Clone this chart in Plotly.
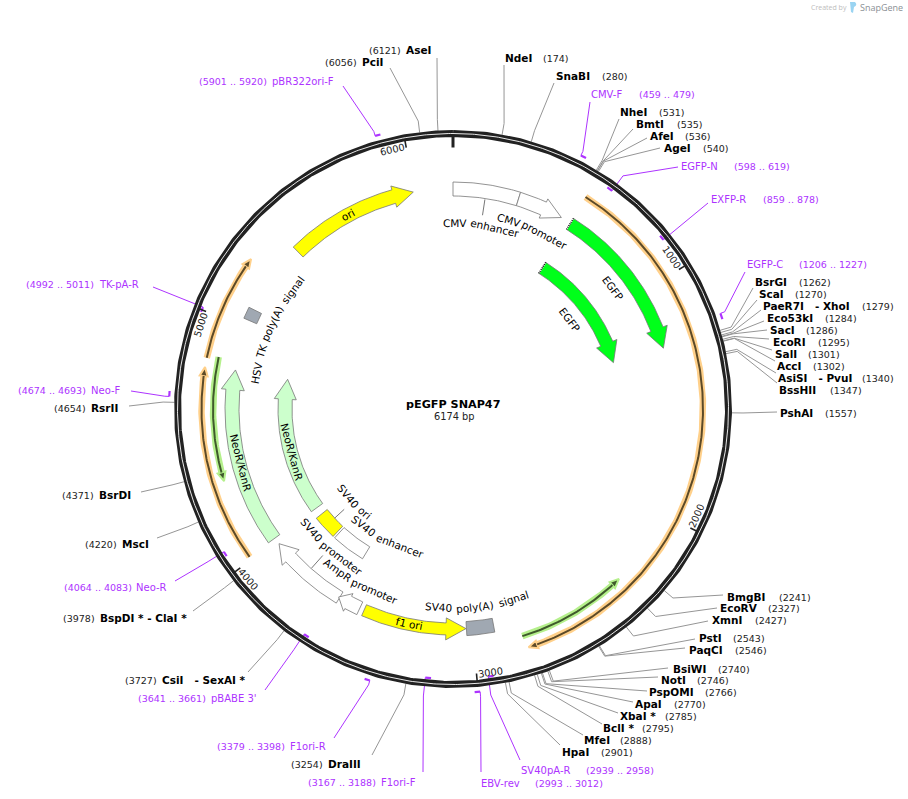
import numpy as np
import plotly.graph_objects as go

# plasmid
plasmid_name = "pEGFP SNAP47"
plasmid_len = 6174
tick_bps = [1000, 2000, 3000, 4000, 5000, 6000]

# restriction sites
site_names = ["AseI", "PciI", "NdeI", "SnaBI", "NheI", "BmtI", "AfeI", "AgeI",
              "BsrGI", "ScaI", "PaeR7I\u00a0\u00a0 - XhoI", "Eco53kI", "SacI", "EcoRI", "SalI", "AccI",
              "AsiSI\u00a0\u00a0 - PvuI", "BssHII", "PshAI", "BmgBI", "EcoRV", "XmnI", "PstI", "PaqCI",
              "BsiWI", "NotI", "PspOMI", "ApaI", "XbaI *", "BclI *", "MfeI", "HpaI",
              "DraIII", "CsiI\u00a0\u00a0 - SexAI *", "BspDI * - ClaI *", "MscI", "BsrDI", "RsrII"]
site_bps = [6121, 6056, 174, 280, 531, 535, 536, 540,
            1262, 1270, 1279, 1284, 1286, 1295, 1301, 1302,
            1340, 1347, 1557, 2241, 2327, 2427, 2543, 2546,
            2740, 2746, 2766, 2770, 2785, 2795, 2888, 2901,
            3254, 3727, 3978, 4220, 4371, 4654]

# primers
primer_names = ["pBR322ori-F", "CMV-F", "EGFP-N", "EXFP-R", "EGFP-C", "SV40pA-R", "EBV-rev",
                "F1ori-F", "F1ori-R", "pBABE 3'", "Neo-R", "Neo-F", "TK-pA-R"]
primer_starts = [5901, 459, 598, 859, 1206, 2939, 2993, 3167, 3379, 3641, 4064, 4674, 4992]
primer_ends = [5920, 479, 619, 878, 1227, 2958, 3012, 3188, 3398, 3661, 4083, 4693, 5011]
primer_strands = [1, 1, -1, -1, 1, -1, 1, -1, 1, -1, -1, 1, -1]

# block features, from tail to tip
feature_names = ["CMV enhancer", "CMV promoter", "EGFP", "EGFP", "ori", "HSV TK poly(A) signal",
                 "NeoR/KanR", "NeoR/KanR", "SV40 ori", "SV40 enhancer", "SV40 promoter",
                 "AmpR promoter", "f1 ori", "SV40 poly(A) signal"]
feature_starts = [0, 297, 554, 554, 5409, 5033, 4014, 4014, 3829, 3621, 3619, 3517, 3496, 2905]
feature_ends = [297, 506, 1267, 1267, 5996, 5085, 4805, 4805, 3968, 3817, 3983, 3624, 3029, 3027]

# thin annotated arcs, from tail to tip
thin_starts = [549, 2796, 4832, 4013, 4845]
thin_ends = [2785, 2327, 5258, 4795, 4331]
thin_kinds = ["orange", "green", "orange", "orange", "green"]

# ---- layout -----
W, H = 908, 799
CX, CY, R = 453, 409, 275.5
FONT = "DejaVu Sans"
PURPLE = "#AD33FF"
GRAY = "#969696"
OUTLINE = "#777777"

# x of name, x of number, y of row, end of leader
site_name_x = [406, 362, 504.5, 556, 620, 636, 650, 664,
               755, 759, 763, 767, 770, 773, 775, 777,
               778, 779, 780, 727, 720, 712, 699, 689,
               673, 661, 649, 635, 620, 603, 584, 562,
               328, 162, 100, 122, 99, 91]
site_num_x = [369, 325, 543, 602, 659, 677, 685, 703,
              799, 795, 862, 825, 806, 818, 808, 813,
              862, 830, 825, 779, 768, 755, 733, 735,
              718, 697, 705, 674, 665, 642, 620, 601,
              291, 125, 63, 85, 62, 54]
site_y = [50, 62, 58, 76, 112, 124, 136, 148,
          282, 294, 306, 318, 330, 342, 354, 366,
          378, 390, 413, 597, 608, 620, 638, 650,
          669, 680, 692, 704, 716, 728, 740, 752,
          764, 680, 618, 544, 495, 408]
site_end_x = [437, 390, 504, 554, 619, 633, 647, 660,
              753, 757, 761, 764, 767, 769, 772, 775,
              776, 777, 777, 723, 717, 708, 695, 685,
              668, 658, 647, 633, 618, 602, 583, 560,
              372, 248, 193, 157, 141, 129]
site_end_y = [58, 68, 65, 83, 119, 129, 138, 148,
              288, 300, 310, 321, 330, 339, 350, 361,
              373, 383, 412, 595, 608, 621, 639, 648,
              668, 677, 691, 702, 713, 724, 735, 745,
              755, 672, 611, 538, 492, 406]

primer_name_x = [272, 591, 681, 711, 747, 521, 481, 381, 290, 211, 136, 91, 99]
primer_num_x = [199, 639, 734, 763, 799, 586, 535, 308, 217, 138, 64, 18, 26]
primer_y = [81, 94, 166, 199, 264, 770, 783, 782, 746, 698, 587, 390, 284]
primer_end_x = [343, 590, 678, 708, 745, 520, 481, 423, 334, 265, 175, 131, 153]
primer_end_y = [86, 102, 167, 203, 272, 760, 772, 772, 738, 690, 581, 391, 287]

# radius, thickness, head width and length of the blocks
feature_r = [220, 220, 219, 167, 220.5, 221, 221, 168, 168, 168, 220, 220, 220, 220]
feature_w = [14, 14, 13, 13, 14, 14, 14, 14, 14, 14, 13, 14, 12, 14]
feature_head_w = [21, 21, 22, 22, 22, 0, 23, 22, 0, 0, 23, 20, 22, 0]
feature_head_len = [0, 20, 20, 20, 20, 0, 20, 20, 0, 0, 18, 11, 20, 0]
feature_fill = ["white", "white", "#00FF1A", "#00FF1A", "#FFFF00", "#A0A8B2",
                "#CCFFCC", "#CCFFCC", "#FFFF00", "white", "white", "white", "#FFFF00", "#A0A8B2"]

# label on arc: radius, centre angle
label_r = [186, 197, 200, 147, 221, 200, 219, 167, 136, 147, 186, 198, 219, 199]
label_deg = [8.7, 23.7, 52.9, 52.7, 331.5, 294.2, 255.7, 255, 226.8, 207, 221.7, 208.4, 191.6, 173]

thin_r = [250, 237.5, 251.5, 251.5, 240]
thin_halo = {"orange": "#FFD08A", "green": "#B5F08C"}
thin_line = {"orange": "#5C4A28", "green": "#3F5A2C"}

# rough DejaVu Sans advance widths, in em
NARROW = "iljI.,:;'"
SLIM = "frt()/-"
WIDE = "mMwWCGNOQVAHDKRU"


def word_width(word, size):
    w = 0
    for c in word:
        if c in NARROW:
            w += 0.29
        elif c in SLIM:
            w += 0.39
        elif c in WIDE:
            w += 0.78
        else:
            w += 0.62
    return w * size


def xy(bp, r):
    a = np.asarray(bp, dtype=float) / plasmid_len * 2 * np.pi
    return CX + r * np.sin(a), CY - r * np.cos(a)


def bp_range(a, b):
    n = max(int(abs(b - a) / 8), 2)
    return np.linspace(a, b, n)


def arrow_shape(a, b, r, w, head_w, head_len):
    # closed outline of a block, with a head if head_len is set
    sign = 1 if b > a else -1
    head_bp = head_len / (r * 2 * np.pi) * plasmid_len
    base = b - sign * head_bp
    x1, y1 = xy(bp_range(a, base), r + w / 2)
    x2, y2 = xy(bp_range(base, a), r - w / 2)
    if head_len > 0:
        hx = [float(xy(base, r + head_w / 2)[0]), float(xy(b, r)[0]), float(xy(base, r - head_w / 2)[0])]
        hy = [float(xy(base, r + head_w / 2)[1]), float(xy(b, r)[1]), float(xy(base, r - head_w / 2)[1])]
    else:
        hx, hy = [], []
    return (list(x1) + hx + list(x2) + [x1[0]], list(y1) + hy + list(y2) + [y1[0]])


def rotation(deg):
    deg = deg % 360
    if deg <= 90:
        return deg
    if deg < 270:
        return deg - 180
    return deg - 360


def text(x, y, s, size=10.5, color="black", bold=False, anchor="left", angle=0, family=FONT):
    if bold:
        s = "<b>" + s + "</b>"
    fig.add_annotation(x=x, y=y, xref="x", yref="y", text=s, showarrow=False, xanchor=anchor,
                       yanchor="middle", textangle=angle, borderpad=0, borderwidth=0,
                       font=dict(family=family, size=size, color=color))


def curved_text(s, r, deg, size=10.5):
    # one rotated piece per word so that the label follows the arc
    words = s.split(" ")
    widths = [word_width(w, size) for w in words]
    gap = size * 0.32
    total = sum(widths) + gap * (len(words) - 1)
    sign = 1 if (deg % 360 <= 90 or deg % 360 >= 270) else -1
    pos = -total / 2
    for w, width in zip(words, widths):
        d = deg + sign * np.degrees((pos + width / 2) / r)
        x, y = xy(d / 360 * plasmid_len, r)
        text(float(x), float(y), w, size=size, anchor="center", angle=rotation(d))
        pos += width + gap


fig = go.Figure()

# leaders of the sites
lx, ly = [], []
for bp, ex, ey in zip(site_bps, site_end_x, site_end_y):
    x0, y0 = xy(bp, R + 3)
    x1, y1 = xy(bp, R + 14.5)
    lx += [float(x0), float(x1), ex, None]
    ly += [float(y0), float(y1), ey, None]
fig.add_trace(go.Scatter(x=lx, y=ly, mode="lines", line=dict(color=GRAY, width=1), hoverinfo="skip"))

# leaders and marks of the primers
lx, ly = [], []
mx, my = [], []
for s, e, strand, ex, ey in zip(primer_starts, primer_ends, primer_strands, primer_end_x, primer_end_y):
    r = R + 8.5 if strand > 0 else R - 5.5
    anchor_bp = s if strand > 0 else e
    x0, y0 = xy(anchor_bp, r)
    x1, y1 = xy(anchor_bp, R + 13)
    lx += [float(x0), float(x1), ex, None]
    ly += [float(y0), float(y1), ey, None]
    ax, ay = xy(bp_range(s, e), r)
    mx += list(ax) + [None]
    my += list(ay) + [None]
fig.add_trace(go.Scatter(x=lx, y=ly, mode="lines", line=dict(color=PURPLE, width=1), hoverinfo="skip"))
fig.add_trace(go.Scatter(x=mx, y=my, mode="lines", line=dict(color=PURPLE, width=2.2), hoverinfo="skip"))

# backbone
ring_x, ring_y = xy(np.linspace(0, plasmid_len, 721), R)
fig.add_trace(go.Scatter(x=ring_x, y=ring_y, mode="lines", line=dict(color="#222222", width=7), hoverinfo="skip"))
fig.add_trace(go.Scatter(x=ring_x, y=ring_y, mode="lines", line=dict(color="white", width=0.9), hoverinfo="skip"))

# ticks
for bp in tick_bps:
    x, y = xy([bp, bp], [R - 2, R - 10])
    fig.add_trace(go.Scatter(x=x, y=y, mode="lines", line=dict(color="#222222", width=1.6), hoverinfo="skip"))
    d = bp / plasmid_len * 360 - 3
    tx, ty = xy(d / 360 * plasmid_len, R - 9.5)
    text(float(tx), float(ty), str(bp), size=9.8, color="#222222", anchor="center", angle=rotation(d))
x, y = xy([0, 0], [R - 2, R - 14])
fig.add_trace(go.Scatter(x=x, y=y, mode="lines", line=dict(color="#222222", width=3), hoverinfo="skip"))

# thin arcs
for a, b, kind, r in zip(thin_starts, thin_ends, thin_kinds, thin_r):
    sign = 1 if b > a else -1
    base = b - sign * 9 / (r * 2 * np.pi) * plasmid_len
    x, y = xy(bp_range(a, base), r)
    fig.add_trace(go.Scatter(x=x, y=y, mode="lines", line=dict(color=thin_halo[kind], width=6.5), hoverinfo="skip"))
    hx, hy = arrow_shape(base - sign, b, r, 0, 8, 9)
    fig.add_trace(go.Scatter(x=hx, y=hy, mode="lines", fill="toself", fillcolor=thin_line[kind],
                             line=dict(color=thin_halo[kind], width=2), hoverinfo="skip"))
    fig.add_trace(go.Scatter(x=x, y=y, mode="lines", line=dict(color=thin_line[kind], width=2), hoverinfo="skip"))

# blocks
for i in range(len(feature_names)):
    px, py = arrow_shape(feature_starts[i], feature_ends[i], feature_r[i], feature_w[i],
                         feature_head_w[i], feature_head_len[i])
    fig.add_trace(go.Scatter(x=px, y=py, mode="lines", fill="toself", fillcolor=feature_fill[i],
                             line=dict(color=OUTLINE, width=0.8), hoverinfo="skip"))

# dotted tail on the EGFP blocks
for i in [2, 3]:
    x, y = xy([feature_starts[i], feature_starts[i]],
              [feature_r[i] - feature_w[i] / 2, feature_r[i] + feature_w[i] / 2])
    fig.add_trace(go.Scatter(x=x, y=y, mode="lines", line=dict(color="white", width=1.4), hoverinfo="skip"))
    fig.add_trace(go.Scatter(x=x, y=y, mode="lines", line=dict(color="black", width=1.4, dash="1px,1px"),
                             hoverinfo="skip"))

# small leaders from block to its label
lx, ly = [], []
for i, (r0, r1) in {0: (196, 212), 8: (148, 161), 10: (196, 213)}.items():
    mid = (feature_starts[i] + feature_ends[i]) / 2
    x, y = xy([mid, mid], [r0, r1])
    lx += list(x) + [None]
    ly += list(y) + [None]
fig.add_trace(go.Scatter(x=lx, y=ly, mode="lines", line=dict(color=OUTLINE, width=1), hoverinfo="skip"))

# labels
for name, bp, nx, px, y in zip(site_names, site_bps, site_name_x, site_num_x, site_y):
    text(nx, y, name, size=10.5, bold=True)
    text(px, y + 0.5, "(%d)" % bp, size=9.5, color="#222222")
for name, s, e, nx, px, y in zip(primer_names, primer_starts, primer_ends, primer_name_x, primer_num_x, primer_y):
    text(nx, y, name, size=10, color=PURPLE)
    text(px, y + 0.5, "(%d .. %d)" % (s, e), size=9.5, color=PURPLE)
for name, r, d in zip(feature_names, label_r, label_deg):
    curved_text(name, r, d)

text(CX, 404, plasmid_name, size=11.2, bold=True, anchor="center")
text(CX + 1, 416, "%d bp" % plasmid_len, size=9.8, color="#222222", anchor="center")

# watermark
text(811, 7.5, "Created by", size=7, color="#bdbdbd", family="Open Sans")
text(860, 7.5, "SnapGene", size=9, color="#8a8f94", family="Open Sans")
fig.add_shape(type="path", path="M 850 2 L 855 2 Q 858 5 854 7 L 853 13 L 851 12 Z", xref="x", yref="y",
              fillcolor="#9AD4F2", line=dict(width=0))

fig.update_xaxes(range=[0, W], visible=False, fixedrange=True)
fig.update_yaxes(range=[H, 0], visible=False, fixedrange=True)
fig.update_layout(width=W, height=H, margin=dict(l=0, r=0, t=0, b=0), showlegend=False,
                  plot_bgcolor="white", paper_bgcolor="white")

fig.write_html("out.html", config={"displayModeBar": False}, post_script="document.body.style.margin='0';")
